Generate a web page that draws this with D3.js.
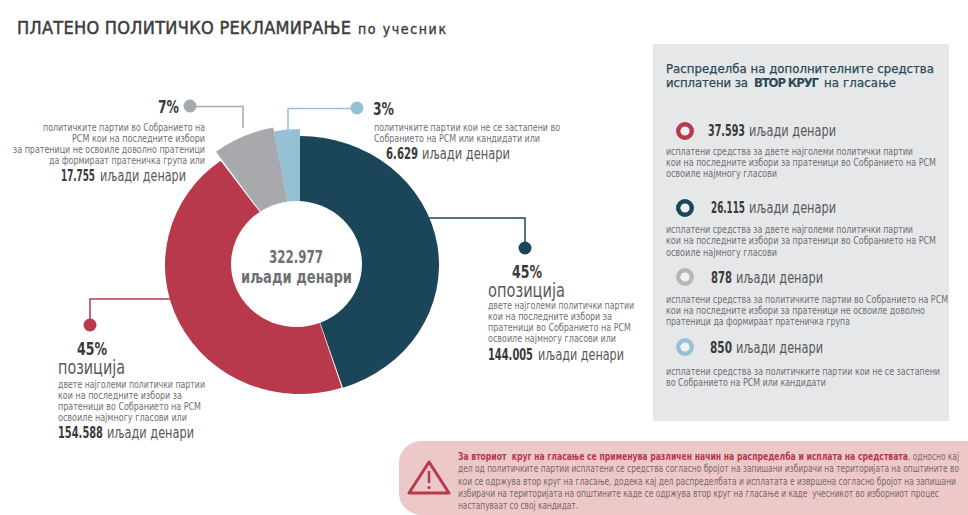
<!DOCTYPE html>
<html>
<head>
<meta charset="utf-8">
<script src="https://cdn.jsdelivr.net/npm/d3@7"></script>
<style>
  html, body { margin: 0; padding: 0; background: #fff; }
  svg { display: block; }
  text { font-family: "Liberation Sans Narrow", "DejaVu Sans Condensed", Roboto, sans-serif; }
</style>
</head>
<body>
<svg id="chart" width="968" height="515"></svg>
<script>
// data
const categories = ["опозиција", "позиција", "мали партии", "други"];
const shares = [45, 45, 7, 3];
const amounts = [144005, 154588, 17755, 6629];
const total = 322977;
const secondRound = [37593, 26115, 878, 850];
const unit = "иљади денари";

const descOpp = ["двете најголеми политички партии", "кои на последните избори за", "пратеници во Собранието на РСМ", "освоиле најмногу гласови или"];
const descPos = descOpp;
const descGrey = ["политичките партии во Собранието на", "РСМ кои на последните избори", "за пратеници не освоиле доволно пратеници", "да формираат пратеничка група или"];
const descBlue = ["политичките партии кои не се застапени во", "Собранието на РСМ или кандидати или"];

const panelDesc = [
  ["исплатени средства за двете најголеми политички партии", "кои на последните избори за пратеници во Собранието на РСМ", "освоиле најмногу гласови"],
  ["исплатени средства за двете најголеми политички партии", "кои на последните избори за пратеници во Собранието на РСМ", "освоиле најмногу гласови"],
  ["исплатени средства за политичките партии во Собранието на РСМ", "кои на последните избори за пратеници не освоиле доволно", "пратеници да формираат пратеничка група"],
  ["исплатени средства за политичките партии кои не се застапени", "во Собранието на РСМ или кандидати"]
];

const noteBold = "За вториот  круг на гласање се применува различен начин на распределба и исплата на средствата";
const noteLines = [
  ", односно кај",
  "дел од политичките партии исплатени се средства согласно бројот на запишани избирачи на територијата на општините во",
  "кои се одржува втор круг на гласање, додека кај дел распределбата и исплатата е извршена согласно бројот на запишани",
  "избирачи на територијата на општините каде се одржува втор круг на гласање и каде  учесникот во изборниот процес",
  "настапуваат со свој кандидат."
];

const colors = ["#1b4659", "#b7394b", "#a7a9ac", "#96c1d5"];
const panelRings = [colors[1], colors[0], "#b5b6b8", colors[3]];
const ink = "#3a3a3c", soft = "#58595b", small = "#6f7073";

const svg = d3.select("#chart");
const fmt = d3.formatLocale({ decimal: ",", thousands: ".", grouping: [3], currency: ["", ""] }).format(",d");

// width is forced so the lines end where they do in the original
function put(x, y, str, size, opts) {
  opts = opts || {};
  const t = svg.append("text")
    .attr("x", x).attr("y", y)
    .attr("font-size", size)
    .attr("font-weight", opts.weight || 400)
    .attr("fill", opts.fill || small)
    .attr("text-anchor", opts.anchor || "start")
    .attr("xml:space", "preserve")
    .text(str);
  if (opts.width) t.attr("textLength", opts.width).attr("lengthAdjust", opts.adjust || "spacingAndGlyphs");
  // the narrow font only has regular and bold, a thin stroke gives the medium weight
  if (opts.heavy) t.attr("stroke", opts.fill).attr("stroke-width", opts.heavy);
  return t;
}

function block(x, ys, lines, ends, size) {
  lines.forEach((l, i) => put(x, ys[i], l, size, { width: ends[i] - x }));
}

function amount(x0, x1, x2, x3, y, value, size) {
  put(x0, y, fmt(value), size, { weight: 700, fill: ink, width: x1 - x0 });
  put(x2, y, unit, size, { fill: soft, width: x3 - x2 });
}

// title
put(17, 34, "ПЛАТЕНО ПОЛИТИЧКО РЕКЛАМИРАЊЕ", 18, { fill: "#3a3b3d", heavy: 0.45, width: 334, adjust: "spacing" });
put(358, 34, "по учесник", 14, { fill: "#3a3b3d", heavy: 0.35, width: 88, adjust: "spacing" });

// donut, slices have slightly different radii in the original
const pie = d3.pie().sort(null).value(d => d)(shares);
const rx = [139, 135, 143, 140], ry = [129, 129, 140, 136];
const arc = d3.arc().innerRadius(0).outerRadius(d => d.ry);

svg.append("g").attr("class", "slices")
  .selectAll("path").data(pie).enter().append("path")
  .attr("transform", (d, i) => "translate(300,265) scale(" + (rx[i] / ry[i]) + ",1)")
  .attr("fill", (d, i) => colors[i])
  .attr("d", (d, i) => arc({ startAngle: d.startAngle, endAngle: d.endAngle, ry: ry[i] }));

svg.append("ellipse").attr("cx", 296.5).attr("cy", 264).attr("rx", 65.5).attr("ry", 63).attr("fill", "#fff");

put(296, 263, fmt(total), 18, { weight: 700, fill: small, anchor: "middle", width: 54 });
put(296.5, 283, unit, 18, { weight: 700, fill: small, anchor: "middle", width: 111 });

// leader lines
function leader(points, color, dot) {
  svg.append("path").attr("fill", "none").attr("stroke", color).attr("stroke-width", 1.5)
    .attr("d", d3.line()(points));
  svg.append("circle").attr("cx", dot[0]).attr("cy", dot[1]).attr("r", 6.5).attr("fill", color);
}
leader([[428, 218], [525, 218], [525, 248]], colors[0], [525, 248]);
leader([[170, 299], [90, 299], [90, 325]], colors[1], [90, 325]);
leader([[196, 106.5], [243, 106.5], [243, 128]], colors[2], [190, 106]);
leader([[351, 108.5], [288, 108.5], [288, 130]], colors[3], [357, 108]);

// opposition label
put(512, 278, shares[0] + "%", 18, { weight: 700, fill: ink, width: 30 });
put(488, 297, categories[0], 19, { fill: soft, width: 77 });
block(488, [309, 320, 331, 342], descOpp, [634, 612, 631, 616], 10.5);
amount(488, 533, 538, 624, 360, amounts[0], 15);

// position label
put(77, 355, shares[1] + "%", 18, { weight: 700, fill: ink, width: 30 });
put(58, 374, categories[1], 19, { fill: soft, width: 67 });
block(58, [388, 399, 410, 421], descPos, [205, 182, 201, 187], 10.5);
amount(58, 103, 107, 194, 438, amounts[1], 15);

// grey label, right aligned
put(158, 113, shares[2] + "%", 18, { weight: 700, fill: ink, width: 21 });
[43, 72, 13, 49].forEach((x, i) => put(x, [131, 142, 153, 164][i], descGrey[i], 10.5, { width: 205 - x }));
amount(61, 95, 100, 186, 181, amounts[2], 15);

// blue label
put(373, 115, shares[3] + "%", 18, { weight: 700, fill: ink, width: 21 });
block(374, [131, 142], descBlue, [560, 540], 10.5);
amount(386, 418, 422, 510, 159, amounts[3], 15);

// side panel
svg.append("rect").attr("x", 653).attr("y", 44).attr("width", 296).attr("height", 377).attr("fill", "#e6e7e9");
const navy = "#2b4a58";
put(666, 73, "Распределба на дополнителните средства", 13, { fill: navy, heavy: 0.25, width: 268, adjust: "spacing" });
put(666, 87, "исплатени за", 13, { fill: navy, heavy: 0.25, width: 82, adjust: "spacing" });
put(754, 87, "ВТОР КРУГ", 13, { weight: 700, fill: navy, width: 65, adjust: "spacing" });
put(824, 87, "на гласање", 13, { fill: navy, heavy: 0.25, width: 72, adjust: "spacing" });

const panelLayout = [
  { cy: 131, base: 136, x: [708, 745, 749, 836], ys: [155, 166, 177], ends: [913, 936, 777] },
  { cy: 208, base: 213, x: [711, 745, 749, 836], ys: [233, 244, 256], ends: [913, 936, 777] },
  { cy: 277, base: 283, x: [711, 732, 736, 823], ys: [303, 314, 325], ends: [948, 925, 850] },
  { cy: 347, base: 353, x: [710, 732, 736, 823], ys: [375, 386], ends: [940, 826] }
];
panelLayout.forEach((p, i) => {
  svg.append("circle").attr("cx", 685).attr("cy", p.cy).attr("r", 6.8)
    .attr("fill", "#f1f1f2").attr("stroke", panelRings[i]).attr("stroke-width", 4.4);
  amount(p.x[0], p.x[1], p.x[2], p.x[3], p.base, secondRound[i], 15);
  block(666, p.ys, panelDesc[i], p.ends, 10.5);
});

// note at the bottom
svg.append("rect").attr("x", 399).attr("y", 441).attr("width", 620).attr("height", 74).attr("rx", 22).attr("fill", "#ecc9c8");
svg.append("path").attr("fill", "none").attr("stroke", colors[1]).attr("stroke-width", 3).attr("stroke-linejoin", "round")
  .attr("d", d3.line()([[429, 462], [409, 493], [449, 493]]) + "Z");
svg.append("path").attr("stroke", colors[1]).attr("stroke-width", 2.5).attr("d", d3.line()([[429, 471], [429, 483]]));
svg.append("circle").attr("cx", 429).attr("cy", 487.5).attr("r", 1.6).attr("fill", colors[1]);

put(458, 460, noteBold, 10.5, { weight: 700, fill: colors[1], width: 450 });
put(908, 460, noteLines[0], 10, { fill: "#77686a", width: 51 });
const noteEnds = [959, 956, 939, 578], noteY = [472, 485, 497, 509];
noteLines.slice(1).forEach((l, i) => put(458, noteY[i], l, 10, { fill: "#77686a", width: noteEnds[i] - 458 }));
</script>
</body>
</html>
